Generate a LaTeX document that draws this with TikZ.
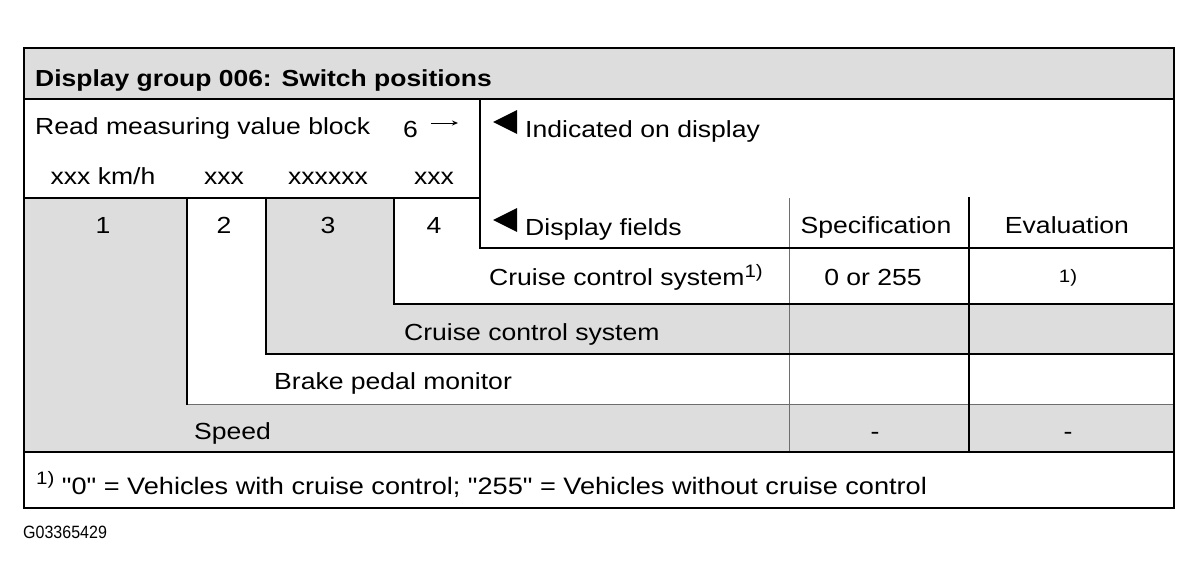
\documentclass[tikz,border=0pt]{standalone}
\usetikzlibrary{arrows.meta}
\usepackage{fontspec}
\setmainfont{Liberation Sans}[FakeStretch=1.14]
\newfontfamily\plainfont{Liberation Sans}[FakeStretch=1.14]
\newfontfamily\gfont{Liberation Sans}[FakeStretch=0.9]
\definecolor{grayfill}{RGB}{221,221,221}
\definecolor{thinline}{RGB}{110,110,110}
\newcommand{\supone}[1]{{\fontsize{18}{18}\selectfont\raisebox{#1}{1)}}}
\begin{document}
\begin{tikzpicture}[x=1pt,y=-1pt,
  thickline/.style={line width=2.3pt,line cap=rect},
  thinrule/.style={line width=0.9pt,draw=thinline},
  txt/.style={inner sep=0pt,font=\fontsize{23.3}{27}\selectfont},
  lt/.style={txt,anchor=base west},
  ct/.style={txt,anchor=base},
  hd/.style={inner sep=0pt,anchor=base west,font=\fontsize{23.2}{27}\selectfont\bfseries},
  tri/.style={fill=black}]
\useasboundingbox (0,0) rectangle (1200,586);
\fill[white] (0,0) rectangle (1200,586);
% fills
\fill[grayfill] (24,48) rectangle (1174,99);
\fill[grayfill] (24,198) -- (187,198) -- (187,404) -- (1174,404) -- (1174,452) -- (24,452) -- cycle;
\fill[grayfill] (266,198) -- (394,198) -- (394,304) -- (1174,304) -- (1174,354) -- (266,354) -- cycle;
% thin rules
\draw[thinrule] (187,404) -- (1174,404);
\draw[thinrule] (789,198) -- (789,452);
% thick rules
\draw[thickline] (24,99) -- (1174,99);
\draw[thickline] (24,198) -- (480,198);
\draw[thickline] (480,99) -- (480,248) -- (1174,248);
\draw[thickline] (187,198) -- (187,404);
\draw[thickline] (266,198) -- (266,354) -- (1174,354);
\draw[thickline] (394,198) -- (394,304) -- (1174,304);
\draw[thickline] (969,198) -- (969,452);
\draw[thickline] (24,452) -- (1174,452);
\draw[thickline] (24,48) rectangle (1174,508);
% header
\node[hd] (title) at (35,86) {Display group 006: Switch positions};
% read block
\node[lt] (read) at (35,134) {Read measuring value block};
\node[lt] (six) at (403,137) {6};
\coordinate (arrA) at (431,123);
\coordinate (arrB) at (458,123);
\draw[line width=1pt,-{Stealth[length=6pt,width=5pt]}] (arrA) -- (arrB);
\node[ct] (x1) at (103,184) {xxx km/h};
\node[ct] (x2) at (224,184) {xxx};
\node[ct] (x3) at (328,184) {xxxxxx};
\node[ct] (x4) at (434,184) {xxx};
\node[ct] (n1) at (103,233) {1};
\node[ct] (n2) at (224,233) {2};
\node[ct] (n3) at (328,233) {3};
\node[ct] (n4) at (434,233) {4};
% indicated / display fields
\fill[tri] (493,122) -- (517,110) -- (517,134) -- cycle;
\node[lt] (ind) at (525,137) {Indicated on display};
\fill[tri] (493,220) -- (517,208) -- (517,232) -- cycle;
\node[lt] (df) at (525,235) {Display fields};
\node[ct] (spec) at (876,233) {Specification};
\node[ct] (eval) at (1067,233) {Evaluation};
% rows
\node[lt] (ccs1) at (489,285) {Cruise control system\supone{8pt}};
\node[ct] (v255) at (873,285) {0 or 255};
\node[ct,font=\fontsize{18}{18}\selectfont] (e1) at (1068,282) {1)};
\node[lt] (ccs) at (404,340) {Cruise control system};
\node[lt] (brake) at (274,389) {Brake pedal monitor};
\node[lt] (speed) at (194,439) {Speed};
\node[ct] (d1) at (875,439) {-};
\node[ct] (d2) at (1068,439) {-};
% footnote
\node[inner sep=0pt,anchor=base west,font=\plainfont\fontsize{23.8}{27}\selectfont] (foot) at (36,494) {\supone{10pt} "0" = Vehicles with cruise control; "255" = Vehicles without cruise control};
\node[inner sep=0pt,anchor=base west,font=\gfont\fontsize{17.8}{20}\selectfont] (gid) at (23,538) {G03365429};
\end{tikzpicture}
\end{document}
